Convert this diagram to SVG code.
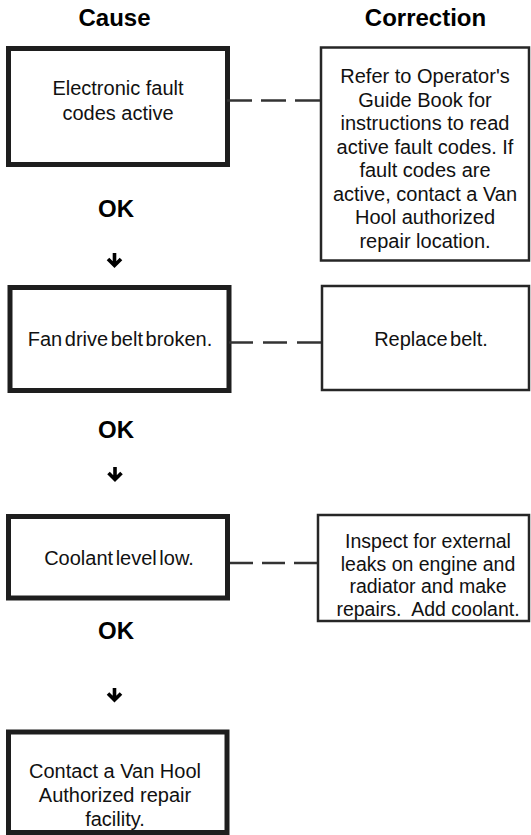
<svg xmlns="http://www.w3.org/2000/svg" width="531" height="835" viewBox="0 0 531 835">
<style>
.bg{fill:#fff}
.cause{fill:#fff;stroke:#1e1e1e;stroke-width:5}
.corr{fill:#fff;stroke:#262626;stroke-width:2.5}
.t{font-family:"Liberation Sans",Arial,sans-serif;font-size:20px;fill:#111;text-anchor:middle}
.tight{word-spacing:-3px}
.h{font-family:"Liberation Sans",Arial,sans-serif;font-size:24px;font-weight:bold;fill:#000;text-anchor:middle}
.dash{stroke:#333;stroke-width:2.3;fill:none}
.arr{stroke:#000;stroke-width:3.6;fill:none;stroke-linejoin:miter}
</style>
<rect class="bg" x="0" y="0" width="531" height="835"/>
<g id="headers">
<text class="h" x="114.5" y="26">Cause</text>
<text class="h" x="425.5" y="26">Correction</text>
</g>
<g id="cause1">
<rect class="cause" x="8.5" y="48.5" width="219" height="116"/>
<text class="t" x="118" y="95">Electronic fault</text>
<text class="t" x="118" y="120">codes active</text>
</g>
<g id="corr1">
<rect class="corr" x="321" y="47.5" width="208" height="213"/>
<text class="t" x="425" y="83">Refer to Operator's</text>
<text class="t" x="425" y="106.5">Guide Book for</text>
<text class="t" x="425" y="130">instructions to read</text>
<text class="t" x="425" y="153.5">active fault codes. If</text>
<text class="t" x="425" y="177">fault codes are</text>
<text class="t" x="425" y="200.5">active, contact a Van</text>
<text class="t" x="425" y="224">Hool authorized</text>
<text class="t" x="425" y="247.5">repair location.</text>
</g>
<g id="ok1">
<text class="h" x="116" y="217">OK</text>
<path class="arr" d="M114.5,253 V265 M108,259 L114.5,265.5 L121,259"/>
</g>
<g id="cause2">
<rect class="cause" x="10" y="287.5" width="219" height="103"/>
<text class="t tight" x="120" y="346">Fan drive belt broken.</text>
</g>
<g id="corr2">
<rect class="corr" x="322" y="286" width="207" height="104"/>
<text class="t tight" x="431" y="346">Replace belt.</text>
</g>
<g id="ok2">
<text class="h" x="116" y="438">OK</text>
<path class="arr" d="M115,467 V479 M108.5,473 L115,479.5 L121.5,473"/>
</g>
<g id="cause3">
<rect class="cause" x="8.5" y="516.5" width="219" height="81.5"/>
<text class="t tight" x="119" y="565">Coolant level low.</text>
</g>
<g id="corr3">
<rect class="corr" x="318" y="515" width="211" height="106"/>
<text class="t" x="428" y="548" style="font-size:19.5px">Inspect for external</text>
<text class="t" x="428" y="570.5" style="font-size:19.5px">leaks on engine and</text>
<text class="t" x="428" y="593" style="font-size:19.5px">radiator and make</text>
<text class="t" x="428" y="615.5" style="font-size:19.5px" xml:space="preserve">repairs.  Add coolant.</text>
</g>
<g id="ok3">
<text class="h" x="116" y="639">OK</text>
<path class="arr" d="M114.5,688 V699.5 M108,693.5 L114.5,700 L121,693.5"/>
</g>
<g id="cause4">
<rect class="cause" x="8.5" y="732" width="218.5" height="100.5"/>
<text class="t" x="115" y="778">Contact a Van Hool</text>
<text class="t" x="115" y="802">Authorized repair</text>
<text class="t" x="115" y="826">facility.</text>
</g>
<g id="connectors">
<line class="dash" x1="227" y1="100.5" x2="320" y2="100.5" stroke-dasharray="25 9 25 9 25"/>
<line class="dash" x1="229" y1="342.5" x2="321" y2="342.5" stroke-dasharray="24 10 24 10 24"/>
<line class="dash" x1="230" y1="563" x2="317" y2="563" stroke-dasharray="23 9 23 9 23"/>
</g>
</svg>
